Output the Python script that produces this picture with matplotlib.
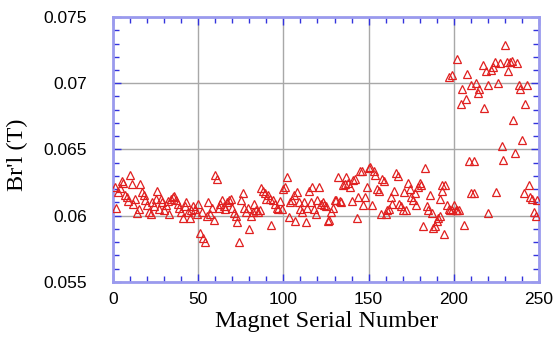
import matplotlib
matplotlib.use("Agg")
import matplotlib.pyplot as plt
from matplotlib.ticker import MultipleLocator

serial_head = list(range(1, 196))
values_head = [
    0.0622, 0.0606, 0.0618, 0.0621, 0.0626, 0.0625, 0.0616, 0.0614, 0.0611, 0.0631,
    0.0624, 0.0609, 0.0613, 0.0602, 0.0605, 0.0624, 0.0618, 0.0616, 0.0612, 0.0608,
    0.0603, 0.0601, 0.0610, 0.0607, 0.0613, 0.0619, 0.0605, 0.0613, 0.0610, 0.0604,
    0.0608, 0.0611, 0.0601, 0.0613, 0.0614, 0.0615, 0.0612, 0.0609, 0.0606, 0.0603,
    0.0598, 0.0607, 0.0610, 0.0603, 0.0598, 0.0604, 0.0607, 0.0605, 0.0601, 0.0609,
    0.0587, 0.0603, 0.0583, 0.0580, 0.0600, 0.0610, 0.0601, 0.0606, 0.0597, 0.0631,
    0.0628, 0.0606, 0.0609, 0.0612, 0.0607, 0.0605, 0.0610, 0.0612, 0.0613, 0.0606,
    0.0602, 0.0600, 0.0595, 0.0580, 0.0612, 0.0617, 0.0606, 0.0603, 0.0606, 0.0590,
    0.0600, 0.0603, 0.0609, 0.0604, 0.0603, 0.0604, 0.0621, 0.0619, 0.0617, 0.0613,
    0.0616, 0.0613, 0.0593, 0.0612, 0.0609, 0.0606, 0.0605, 0.0611, 0.0605, 0.0620,
    0.0622, 0.0629, 0.0599, 0.0610, 0.0612, 0.0616, 0.0596, 0.0618, 0.0610, 0.0605,
    0.0603, 0.0610, 0.0595, 0.0606, 0.0619, 0.0610, 0.0622, 0.0605, 0.0601, 0.0612,
    0.0622, 0.0609, 0.0610, 0.0608, 0.0607, 0.0596, 0.0597, 0.0603, 0.0606, 0.0612,
    0.0612, 0.0629, 0.0611, 0.0610, 0.0623, 0.0624, 0.0629, 0.0625, 0.0622, 0.0611,
    0.0627, 0.0628, 0.0598, 0.0614, 0.0634, 0.0634, 0.0608, 0.0614, 0.0622, 0.0636,
    0.0637, 0.0608, 0.0634, 0.0631, 0.0620, 0.0619, 0.0601, 0.0628, 0.0626, 0.0601,
    0.0604, 0.0605, 0.0614, 0.0609, 0.0619, 0.0632, 0.0630, 0.0609, 0.0607, 0.0604,
    0.0618, 0.0604, 0.0625, 0.0620, 0.0614, 0.0612, 0.0617, 0.0608, 0.0622, 0.0625,
    0.0623, 0.0592, 0.0636, 0.0607, 0.0604, 0.0616, 0.0602, 0.0591, 0.0592, 0.0596,
    0.0598, 0.0600, 0.0619, 0.0586, 0.0623,
]
serial_tail = [192, 193, 196, 197, 197, 198, 199, 199, 200, 201, 202, 202, 203, 204,
               205, 206, 207, 208, 209, 210, 210, 212, 212, 213, 214, 215, 217, 218,
               219, 220, 220, 222, 223, 224, 225, 226, 227, 228, 229, 230, 231, 232,
               233, 234, 235, 236, 237, 238, 239, 240, 241, 242, 243, 244, 245, 246,
               247, 248, 249]
values_tail = [0.0613, 0.0623, 0.0608, 0.0705, 0.0605, 0.0604, 0.0706, 0.0604, 0.0608,
               0.0604, 0.0718, 0.0604, 0.0604, 0.0684, 0.0696, 0.0593, 0.0688, 0.0707,
               0.0641, 0.0699, 0.0617, 0.0641, 0.0617, 0.0700, 0.0693, 0.0696, 0.0714,
               0.0681, 0.0709, 0.0699, 0.0602, 0.0710, 0.0712, 0.0716, 0.0618, 0.0700,
               0.0715, 0.0653, 0.0642, 0.0729, 0.0716, 0.0709, 0.0716, 0.0717, 0.0672,
               0.0647, 0.0715, 0.0699, 0.0696, 0.0657, 0.0617, 0.0684, 0.0699, 0.0623,
               0.0614, 0.0613, 0.0603, 0.0600, 0.0612]

serials = serial_head + serial_tail
values = values_head + values_tail

x_ticks = [0, 50, 100, 150, 200, 250]
y_ticks = [0.055, 0.06, 0.065, 0.07, 0.075]
y_tick_labels = ["0.055", "0.06", "0.065", "0.07", "0.075"]

fig = plt.figure(figsize=(5.57, 3.38), dpi=100)
ax = fig.add_axes([0.2029, 0.1657, 0.7648, 0.7840])

ax.plot(serials, values, linestyle="none", marker="^", markersize=6,
        markerfacecolor="none", markeredgecolor="#e02020", markeredgewidth=0.9,
        zorder=3)

ax.set_xlim(0, 250)
ax.set_ylim(0.055, 0.075)
ax.set_xticks(x_ticks)
ax.set_yticks(y_ticks)
ax.set_yticklabels(y_tick_labels)
ax.xaxis.set_minor_locator(MultipleLocator(10))
ax.yaxis.set_minor_locator(MultipleLocator(0.001))

ax.grid(True, which="major", color="#a8a8a8", linewidth=1.0, zorder=1)
for s in ax.spines.values():
    s.set_color("#9a9aee")
    s.set_linewidth(2.0)

ax.tick_params(which="both", direction="in", top=True, right=True,
               color="#3333dd", labelsize=12.5)
ax.tick_params(which="major", length=6, width=1.0)
ax.tick_params(which="minor", length=4, width=1.0)
ax.tick_params(axis="y", which="major", pad=19)
ax.tick_params(axis="x", which="major", pad=7.5)
for lab in ax.get_xticklabels() + ax.get_yticklabels():
    lab.set_fontfamily("Liberation Sans")
    lab.set_color("black")

ax.set_xlabel("Magnet Serial Number", fontfamily="Liberation Serif",
              fontsize=17.5)
ax.set_ylabel("Br'l (T)", fontfamily="Liberation Serif", fontsize=17.5)
ax.xaxis.set_label_coords(0.501, -0.108)
ax.yaxis.set_label_coords(-0.200, 0.48)

fig.savefig("out.png", dpi=100)
